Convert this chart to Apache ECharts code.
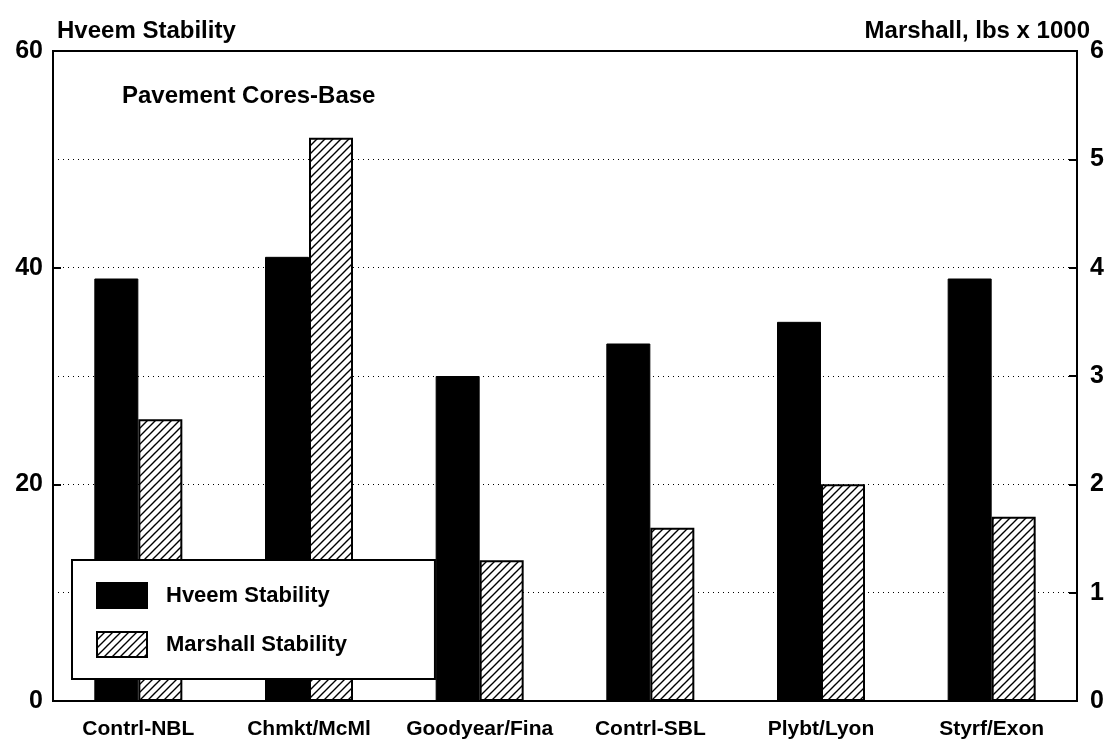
<!DOCTYPE html>
<html>
<head>
<meta charset="utf-8">
<script src="https://cdn.jsdelivr.net/npm/echarts@6/dist/echarts.min.js"></script>
<style>
	* {
		margin: 0;
		padding: 0;
	}

	#main {
		width: 1117px;
		height: 744px;
		background: #fff;
	}
</style>
</head>
<body>
<div id="main"></div>
<script>
	var categories = ['Contrl-NBL', 'Chmkt/McMl', 'Goodyear/Fina', 'Contrl-SBL', 'Plybt/Lyon', 'Styrf/Exon'];
	var hveem = [39, 41, 30, 33, 35, 39];
	var marshall = [2.6, 5.2, 1.3, 1.6, 2.0, 1.7];
	var leftTicks = [0, 60, 20];   // min, max, step of labels
	var rightTicks = [0, 6, 1];

	var font = '"Liberation Sans", Arial, sans-serif';

	// diagonal hatch for Marshall bars
	function hatch() {
		var c = document.createElement('canvas');
		c.width = 8;
		c.height = 8;
		var g = c.getContext('2d');
		g.fillStyle = '#fff';
		g.fillRect(0, 0, 8, 8);
		g.strokeStyle = '#000';
		g.lineWidth = 1.4;
		g.beginPath();
		g.moveTo(0, 8); g.lineTo(8, 0);
		g.moveTo(-4, 4); g.lineTo(4, -4);
		g.moveTo(4, 12); g.lineTo(12, 4);
		g.stroke();
		return c;
	}

	var chart = echarts.init(document.getElementById('main'));
	chart.setOption({
		animation: false,
		backgroundColor: '#fff',
		textStyle: { fontFamily: font, color: '#000' },
		title: [{
			text: 'Hveem Stability', left: 52, top: 14,
			textStyle: { fontSize: 24, fontWeight: 'bold', color: '#000', fontFamily: font }
		}, {
			text: 'Marshall, lbs x 1000', right: 22, top: 14,
			textStyle: { fontSize: 24, fontWeight: 'bold', color: '#000', fontFamily: font }
		}, {
			text: 'Pavement Cores-Base', left: 117, top: 79,
			textStyle: { fontSize: 24, fontWeight: 'bold', color: '#000', fontFamily: font }
		}],
		legend: {
			orient: 'vertical',
			left: 72,
			top: 560,
			data: ['Hveem Stability', 'Marshall Stability'],
			icon: 'rect',
			itemWidth: 50,
			itemHeight: 25,
			itemGap: 22,
			padding: [22, 88, 21, 24],
			backgroundColor: '#fff',
			borderColor: '#000',
			borderWidth: 2,
			textStyle: { fontSize: 22, fontWeight: 'bold', color: '#000', fontFamily: font, padding: [0, 0, 0, 14] }
		},
		grid: {
			left: 53, right: 40, top: 51, bottom: 43,
			show: true, borderColor: '#000', borderWidth: 2
		},
		xAxis: {
			type: 'category',
			data: categories,
			axisLine: { show: false },
			axisTick: { show: false },
			axisLabel: { fontSize: 21, fontWeight: 'bold', color: '#000', margin: 18, interval: 0 }
		},
		yAxis: [{
			type: 'value',
			min: leftTicks[0], max: leftTicks[1], interval: leftTicks[2],
			axisLine: { show: false },
			axisTick: { show: true, inside: true, length: 8, lineStyle: { color: '#000', width: 2 } },
			axisLabel: { fontSize: 25, fontWeight: 'bold', color: '#000', margin: 10 },
			splitLine: { show: false }
		}, {
			type: 'value',
			min: rightTicks[0], max: rightTicks[1], interval: rightTicks[2],
			axisLine: { show: false },
			axisTick: { show: true, inside: true, length: 8, lineStyle: { color: '#000', width: 2 } },
			axisLabel: { fontSize: 25, fontWeight: 'bold', color: '#000', margin: 13 },
			splitLine: { show: true, lineStyle: { color: '#000', type: [1, 4], width: 1.2 } }
		}],
		series: [{
			name: 'Hveem Stability',
			type: 'bar',
			yAxisIndex: 0,
			data: hveem,
			barWidth: 44,
			barGap: '0%',
			itemStyle: { color: '#000', borderColor: '#000', borderWidth: 1 }
		}, {
			name: 'Marshall Stability',
			type: 'bar',
			yAxisIndex: 1,
			data: marshall,
			barWidth: 44,
			barGap: '0%',
			itemStyle: { color: { image: hatch(), repeat: 'repeat' }, borderColor: '#000', borderWidth: 2 }
		}]
	});
</script>
</body>
</html>
